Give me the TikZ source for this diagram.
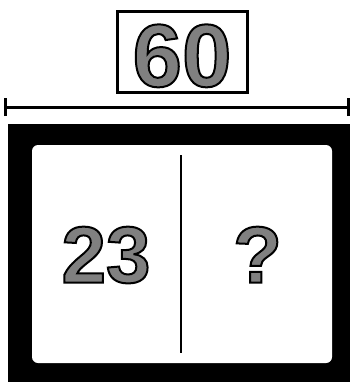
\documentclass[tikz,border=0pt]{standalone}
\usepackage{fontspec}
\setmainfont{Liberation Sans}
\tikzset{
  bignum/.style={font=\fontsize{#1}{#1}\selectfont\bfseries, inner sep=0pt, anchor=base},
  thick3/.style={line width=3pt},
}
\newcommand{\halftone}[1]{{\color{black!50}\special{pdf:literal direct 2 Tr 2 w 0 G}#1\special{pdf:literal direct 0 Tr}}}
\begin{document}
\begin{tikzpicture}[x=1pt,y=-1pt]
\useasboundingbox (0,0) rectangle (352,383);
% top box with 60
\draw[thick3] (117,11) rectangle (247,92);
\node[bignum=89] (sixty) at (182,86.5) {\halftone{60}};
% dimension line
\coordinate (dl) at (5,107);
\coordinate (dr) at (348,107);
\draw[thick3] (dl) -- (dr);
\draw[thick3] ([yshift=-9pt]dl) -- ([yshift=9pt]dl);
\draw[thick3] ([yshift=-9pt]dr) -- ([yshift=9pt]dr);
% frame
\fill[black] (8,124) rectangle (350,382);
\fill[white, rounded corners=6pt] (32,145) rectangle (332,363);
% divider
\coordinate (vt) at (181,155);
\coordinate (vb) at (181,353);
\draw[line width=2pt] (vt) -- (vb);
\node[bignum=80] (tt) at (106,282.5) {\halftone{23}};
\node[bignum=80] (qm) at (257.5,282.5) {\halftone{?}};
\end{tikzpicture}
\end{document}
